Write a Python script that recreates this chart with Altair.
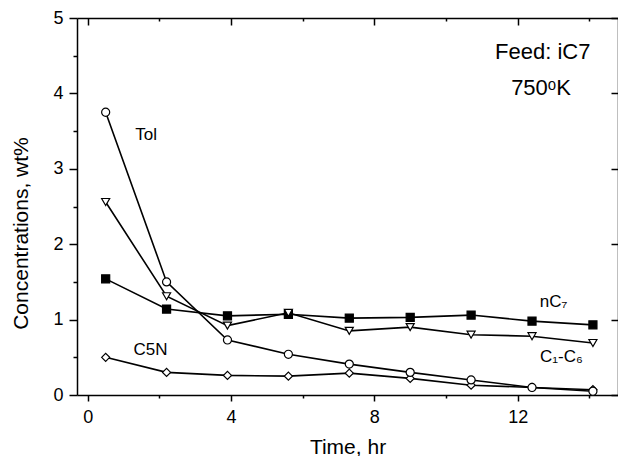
import altair as alt
import pandas as pd

time_hr = [0.5, 2.2, 3.9, 5.6, 7.3, 9.0, 10.7, 12.4, 14.1]
series_names = ["C5N", "nC7", "C1-C6", "Tol"]
c5n = [0.50, 0.30, 0.26, 0.25, 0.29, 0.22, 0.13, 0.10, 0.07]
nc7 = [1.54, 1.14, 1.05, 1.07, 1.02, 1.03, 1.06, 0.98, 0.93]
c1c6 = [2.56, 1.31, 0.92, 1.09, 0.85, 0.90, 0.80, 0.78, 0.69]
tol = [3.75, 1.50, 0.73, 0.54, 0.41, 0.30, 0.20, 0.10, 0.05]
shapes = ["diamond", "square", "triangle-down", "circle"]
fills = ["white", "black", "white", "white"]

label_text = ["Tol", "C5N", "nC\u2087", "C\u2081-C\u2086"]
label_x = [1.63, 1.75, 13.0, 13.22]
label_y = [3.45, 0.60, 1.23, 0.50]

note_text = ["Feed: iC7", "750\u1d52K"]
note_x = [12.7, 12.65]
note_y = [4.55, 4.07]

x_major = [0, 4, 8, 12]
x_minor = [2, 6, 10, 14]
y_major = [0, 1, 2, 3, 4, 5]
y_minor = [0.5, 1.5, 2.5, 3.5, 4.5]

rows = []
for name, vals in zip(series_names, [c5n, nc7, c1c6, tol]):
    for t, v in zip(time_hr, vals):
        rows.append({"series": name, "t": t, "v": v})
df = pd.DataFrame(rows)

labels_df = pd.DataFrame({"label": label_text, "t": label_x, "v": label_y})
notes_df = pd.DataFrame({"label": note_text, "t": note_x, "v": note_y})

W, H = 541, 377
FONT = "Liberation Sans"
xs = alt.Scale(domain=[-0.3, 14.8], nice=False, zero=False)
ys = alt.Scale(domain=[0, 5], nice=False, zero=False)

common = dict(grid=False, domainColor="black", tickColor="black", tickWidth=1.5,
              domainWidth=1.5, labelColor="black", titleColor="black",
              labelFont=FONT, titleFont=FONT)

lines = alt.Chart(df).mark_line(color="black", strokeWidth=1.6).encode(
    x=alt.X("t:Q", scale=xs, axis=alt.Axis(
        orient="bottom", values=x_major, tickSize=6, labelFontSize=18, labelPadding=7,
        title="Time, hr", titleFontSize=21, titleFontWeight="normal", titlePadding=10,
        format="d", **common)),
    y=alt.Y("v:Q", scale=ys, axis=alt.Axis(
        orient="left", values=y_major, tickSize=8, labelFontSize=18, labelPadding=6,
        title="Concentrations, wt%", titleFontSize=21, titleFontWeight="normal",
        titlePadding=21, titleY=215, format="d", **common)),
    detail="series:N",
    order="t:Q",
)

points = alt.Chart(df).mark_point(
    stroke="black", strokeWidth=1.2, opacity=1, fillOpacity=1, size=65
).encode(
    x=alt.X("t:Q", scale=xs, axis=alt.Axis(
        orient="bottom", values=x_minor, tickSize=3, labels=False, domain=False,
        title=None, **common)),
    y=alt.Y("v:Q", scale=ys, axis=alt.Axis(
        orient="left", values=y_minor, tickSize=4, labels=False, domain=False,
        title=None, **common)),
    shape=alt.Shape("series:N", scale=alt.Scale(domain=series_names, range=shapes), legend=None),
    fill=alt.Fill("series:N", scale=alt.Scale(domain=series_names, range=fills), legend=None),
)

labels = alt.Chart(labels_df).mark_text(
    font=FONT, fontSize=17, color="black", baseline="middle", align="center"
).encode(
    x=alt.X("t:Q", scale=xs, axis=alt.Axis(
        orient="bottom", offset=-H, values=x_major, tickSize=7, labels=False,
        title=None, **common)),
    y=alt.Y("v:Q", scale=ys, axis=alt.Axis(
        orient="left", offset=-W, values=y_major, tickSize=7, labels=False,
        title=None, **common)),
    text="label:N",
)

notes = alt.Chart(notes_df).mark_text(
    font=FONT, fontSize=22, color="black", baseline="middle", align="center"
).encode(
    x=alt.X("t:Q", scale=xs, axis=alt.Axis(
        orient="bottom", offset=-H, values=x_minor, tickSize=3, labels=False,
        domain=False, title=None, **common)),
    y=alt.Y("v:Q", scale=ys, axis=None),
    text="label:N",
)

chart = alt.layer(lines, points, labels, notes).resolve_axis(
    x="independent", y="independent"
).properties(
    width=W, height=H,
    padding={"left": 69, "top": 10, "right": 0, "bottom": 62},
    autosize=alt.AutoSizeParams(type="none"),
).configure_view(stroke=None)

chart.save("out.html", embed_options={"renderer": "svg", "actions": False})
